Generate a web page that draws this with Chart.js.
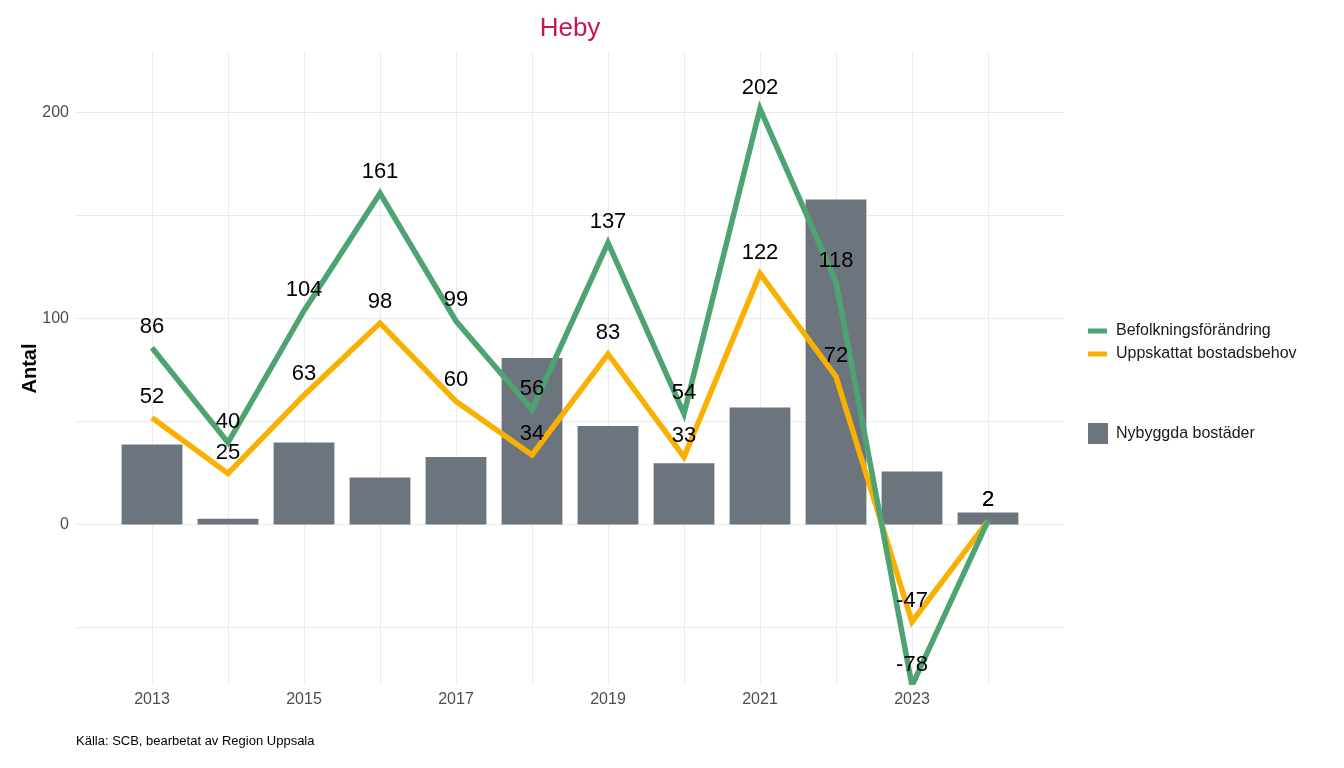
<!DOCTYPE html>
<html lang="sv">
<head>
<meta charset="utf-8">
<title>Heby</title>
<script src="https://cdn.jsdelivr.net/npm/chart.js@4/dist/chart.umd.min.js"></script>
<style>
  html, body { margin: 0; padding: 0; background: #fff; }
  #wrap { width: 1344px; height: 768px; position: relative; }
</style>
</head>
<body>
<div id="wrap"><canvas id="chart" width="1344" height="768"></canvas></div>
<script>
// Data
const years = [2013, 2014, 2015, 2016, 2017, 2018, 2019, 2020, 2021, 2022, 2023, 2024];
const befolkning = [86, 40, 104, 161, 99, 56, 137, 54, 202, 118, -78, 2];
const bostadsbehov = [52, 25, 63, 98, 60, 34, 83, 33, 122, 72, -47, 2];
const nybyggda = [39, 3, 40, 23, 33, 81, 48, 30, 57, 158, 26, 6];
const yearTicks = [2013, 2015, 2017, 2019, 2021, 2023];
const yTicks = [0, 100, 200];

const FONT = "'Liberation Sans', Arial, sans-serif";
const GREEN = '#4da472';
const ORANGE = '#f9b000';
const GRAY = '#6c757d';
const GRID = '#ebebeb';

const toPoints = vals => years.map((yr, i) => ({ x: yr, y: vals[i] }));

// Values above the line points
const pointLabels = {
  id: 'pointLabels',
  afterDatasetsDraw(chart) {
    const ctx = chart.ctx;
    ctx.save();
    ctx.font = '22px ' + FONT;
    ctx.fillStyle = '#000';
    ctx.textAlign = 'center';
    ctx.textBaseline = 'middle';
    chart.data.datasets.forEach((ds, di) => {
      if (ds.type !== 'line') return;
      chart.getDatasetMeta(di).data.forEach((pt, i) => {
        ctx.fillText(String(ds.data[i].y), pt.x, pt.y - 21);
      });
    });
    ctx.restore();
  }
};

// Title, caption and legend
const decorations = {
  id: 'decorations',
  afterDraw(chart) {
    const ctx = chart.ctx;
    const area = chart.chartArea;
    ctx.save();
    ctx.textBaseline = 'middle';

    ctx.font = '26px ' + FONT;
    ctx.fillStyle = '#c2185b';
    ctx.textAlign = 'center';
    ctx.fillText('Heby', (area.left + area.right) / 2, 29);

    ctx.font = '13px ' + FONT;
    ctx.fillStyle = '#000';
    ctx.textAlign = 'left';
    ctx.fillText('Källa: SCB, bearbetat av Region Uppsala', 76, 741);

    ctx.font = '16px ' + FONT;
    const lx = 1088;
    const lineItems = [
      { text: 'Befolkningsförändring', color: GREEN, y: 331 },
      { text: 'Uppskattat bostadsbehov', color: ORANGE, y: 354 }
    ];
    lineItems.forEach(it => {
      ctx.fillStyle = it.color;
      ctx.fillRect(lx, it.y - 2.5, 19, 5);
      ctx.fillStyle = '#1a1a1a';
      ctx.fillText(it.text, lx + 28, it.y);
    });
    ctx.fillStyle = GRAY;
    ctx.fillRect(lx, 423, 20, 21);
    ctx.fillStyle = '#1a1a1a';
    ctx.fillText('Nybyggda bostäder', lx + 28, 434);
    ctx.restore();
  }
};

new Chart(document.getElementById('chart'), {
  type: 'bar',
  data: {
    datasets: [
      {
        type: 'line',
        label: 'Befolkningsförändring',
        data: toPoints(befolkning),
        borderColor: GREEN,
        borderWidth: 5.5,
        pointRadius: 0,
        tension: 0,
        order: 1
      },
      {
        type: 'line',
        label: 'Uppskattat bostadsbehov',
        data: toPoints(bostadsbehov),
        borderColor: ORANGE,
        borderWidth: 5.5,
        pointRadius: 0,
        tension: 0,
        order: 2
      },
      {
        type: 'bar',
        label: 'Nybyggda bostäder',
        data: toPoints(nybyggda),
        backgroundColor: GRAY,
        barPercentage: 0.8,
        categoryPercentage: 1.0,
        order: 3
      }
    ]
  },
  options: {
    responsive: false,
    animation: false,
    layout: { padding: { left: 0, top: 52, right: 280, bottom: 0 } },
    plugins: {
      legend: { display: false },
      title: { display: false },
      tooltip: { enabled: false }
    },
    scales: {
      x: {
        type: 'linear',
        min: 2012,
        max: 2025,
        offset: false,
        border: { display: false },
        grid: { color: GRID, lineWidth: 1, drawTicks: false, offset: false },
        afterBuildTicks(scale) {
          scale.ticks = years.map(v => ({ value: v }));
        },
        ticks: {
          padding: 5,
          color: '#4d4d4d',
          font: { family: FONT, size: 16 },
          maxRotation: 0,
          autoSkip: false,
          callback: v => (yearTicks.includes(v) ? String(v) : '')
        },
        afterFit(scale) { scale.height = 83; }
      },
      y: {
        min: -77.7,
        max: 229.6,
        border: { display: false },
        grid: { color: GRID, lineWidth: 1, drawTicks: false },
        afterBuildTicks(scale) {
          scale.ticks = [-50, 0, 50, 100, 150, 200].map(v => ({ value: v }));
        },
        ticks: {
          padding: 7,
          color: '#4d4d4d',
          font: { family: FONT, size: 16 },
          callback: v => (yTicks.includes(v) ? String(v) : '')
        },
        title: {
          display: true,
          text: 'Antal',
          color: '#000',
          font: { family: FONT, size: 20, weight: 'bold' },
          padding: { top: 18, bottom: 0 }
        },
        afterFit(scale) { scale.width = 76; }
      }
    }
  },
  plugins: [pointLabels, decorations]
});
</script>
</body>
</html>
